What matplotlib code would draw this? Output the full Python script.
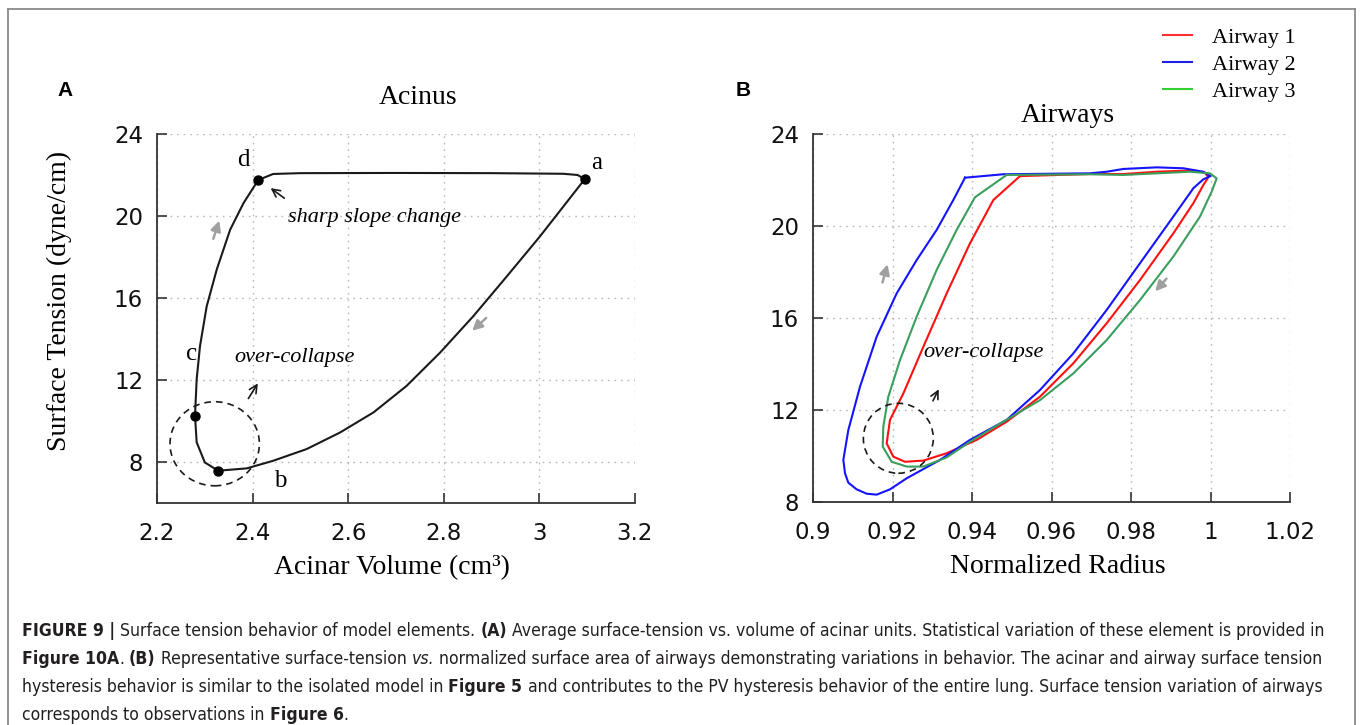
import matplotlib
matplotlib.use('Agg')
import matplotlib.pyplot as plt
from matplotlib.patches import Ellipse
from matplotlib.lines import Line2D
from matplotlib import font_manager as fm

# ---------------- Panel A: Acinus ----------------
acinus_x = [3.095, 3.001, 2.932, 2.862, 2.792, 2.722, 2.653, 2.583, 2.513, 2.443, 2.388, 2.328,
            2.300, 2.283, 2.2795, 2.283, 2.290, 2.304, 2.325, 2.353, 2.381, 2.412,
            2.443, 2.50, 2.70, 2.90, 3.05, 3.08, 3.095]
acinus_y = [21.8, 19.0, 17.06, 15.12, 13.33, 11.71, 10.42, 9.44, 8.63, 8.06, 7.69, 7.575,
            7.98, 8.96, 10.25, 12.04, 13.66, 15.6, 17.39, 19.33, 20.63, 21.76,
            22.05, 22.09, 22.1, 22.09, 22.06, 22.0, 21.8]
point_labels = ['a', 'b', 'c', 'd']
point_x = [3.095, 2.328, 2.2795, 2.412]
point_y = [21.8, 7.575, 10.25, 21.76]
label_x = [3.12, 2.457, 2.272, 2.38]
label_y = [22.57, 7.09, 13.25, 22.73]
a_xticks = [2.2, 2.4, 2.6, 2.8, 3.0, 3.2]
a_xticklabels = ['2.2', '2.4', '2.6', '2.8', '3', '3.2']
a_yticks = [8, 12, 16, 20, 24]

# ---------------- Panel B: Airways ----------------
airway_names = ['Airway 1', 'Airway 2', 'Airway 3']
airway1_x = [0.95208, 0.94537, 0.9395, 0.93363, 0.92776, 0.92273, 0.91937, 0.91853, 0.92021, 0.92314,
             0.92776, 0.93363, 0.94117, 0.94872, 0.95711, 0.96549, 0.97388, 0.98226, 0.99065, 0.99568,
             0.9982, 0.99945, 0.99862, 0.99484, 0.98646, 0.97807, 0.9697, 0.95208]
airway1_y = [22.17, 21.13, 19.25, 17.07, 14.75, 12.72, 11.57, 10.55, 9.97, 9.75,
             9.80, 10.12, 10.70, 11.49, 12.58, 14.03, 15.77, 17.65, 19.68, 20.99,
             21.78, 22.12, 22.32, 22.41, 22.36, 22.26, 22.26, 22.17]
airway2_x = [0.93824, 0.94788, 0.9697, 0.97388, 0.97807, 0.98646, 0.99317, 0.9982, 1.00004,
             0.9982, 0.99568, 0.99065, 0.98226, 0.97388, 0.96549, 0.95711, 0.94872, 0.9395, 0.93195,
             0.92356, 0.91937, 0.91602, 0.9135, 0.91098, 0.90889, 0.90805, 0.90763, 0.90889, 0.91182,
             0.91602, 0.92105, 0.92608, 0.93111, 0.9353, 0.93824]
airway2_y = [22.10, 22.25, 22.29, 22.36, 22.48, 22.55, 22.51, 22.36, 22.17,
             22.03, 21.64, 20.41, 18.38, 16.35, 14.46, 12.87, 11.57, 10.70, 9.83,
             9.03, 8.55, 8.32, 8.36, 8.55, 8.84, 9.25, 9.83, 11.13, 13.01,
             15.19, 17.07, 18.52, 19.83, 21.13, 22.10]
airway3_x = [0.94872, 0.94075, 0.93614, 0.93111, 0.92608, 0.92189, 0.91895, 0.91769, 0.91753, 0.91979,
             0.92356, 0.92776, 0.93363, 0.9395, 0.94788, 0.95711, 0.96549, 0.97388, 0.98226, 0.99065,
             0.99736, 1.00029, 1.00155, 0.99987, 0.99484, 0.98646, 0.97807, 0.9697, 0.94872]
airway3_y = [22.22, 21.25, 19.83, 18.09, 16.06, 14.17, 12.58, 11.28, 10.41, 9.75,
             9.54, 9.54, 9.94, 10.62, 11.49, 12.43, 13.59, 15.04, 16.78, 18.67,
             20.41, 21.49, 22.07, 22.29, 22.36, 22.29, 22.22, 22.25, 22.22]
b_xticks = [0.9, 0.92, 0.94, 0.96, 0.98, 1.0, 1.02]
b_xticklabels = ['0.9', '0.92', '0.94', '0.96', '0.98', '1', '1.02']
b_yticks = [8, 12, 16, 20, 24]

curve_colors = ['#ff1010', '#1414ff', '#3a9e5c']
legend_colors = ['#ff3030', '#2020e0', '#30d030']

# ---------------- fonts ----------------
available = {f.name for f in fm.fontManager.ttflist}
def pick(names):
    for n in names:
        if n in available:
            return n
    return 'DejaVu Sans'
SERIF = pick(['Liberation Serif', 'DejaVu Serif'])
TICKF = 'DejaVu Sans'
LABF = pick(['Liberation Sans', 'DejaVu Sans'])


def is_bold(f):
    w = f.weight
    if isinstance(w, str):
        return w.lower() in ('bold', 'heavy', 'black', 'extra bold', 'semibold', 'demibold')
    return w >= 600


def is_ital(f):
    return f.style in ('italic', 'oblique')


def condensed_file(bold, ital):
    prefs = ['liberation sans narrow', 'dejavu sans condensed', 'roboto condensed',
             'open sans condensed', 'noto sans condensed']
    cands = []
    for f in fm.fontManager.ttflist:
        nm = (f.name + ' ' + f.fname).lower()
        if 'serif' in nm.replace('sans', '') and 'sans' not in nm:
            continue
        if 'mono' in nm or 'serif' in f.name.lower():
            continue
        if not ('narrow' in nm or 'condensed' in nm):
            continue
        if is_bold(f) != bold or is_ital(f) != ital:
            continue
        rank = len(prefs)
        for i, p in enumerate(prefs):
            if p.split()[0] in nm and ('narrow' in p and 'narrow' in nm or 'condensed' in p and 'condensed' in nm):
                rank = i
                break
        cands.append((rank, f.fname))
    if not cands:
        return None
    cands.sort()
    return cands[0][1]


cap_files = {'r': condensed_file(False, False), 'b': condensed_file(True, False),
             'i': condensed_file(False, True)}

W, H = 1360, 725
fig = plt.figure(figsize=(W / 100, H / 100), dpi=100)


def fx(px):
    return px / W


def fy(py):
    return 1 - py / H


axA = fig.add_axes([fx(157), fy(503), fx(635) - fx(157), fy(134) - fy(503)])
axB = fig.add_axes([fx(813), fy(502), fx(1290) - fx(813), fy(134) - fy(502)])


def style(ax, xlim, ylim, xt, xtl, yt):
    ax.set_xlim(*xlim)
    ax.set_ylim(*ylim)
    ax.set_xticks(xt)
    ax.set_xticklabels(xtl)
    ax.set_yticks(yt)
    for s in ['top', 'right']:
        ax.spines[s].set_visible(False)
    for s in ['left', 'bottom']:
        ax.spines[s].set_color('#333333')
        ax.spines[s].set_linewidth(1.3)
    ax.tick_params(direction='in', length=7, width=1.2, colors='#333333',
                   labelcolor='#111111', labelsize=16.5)
    ax.tick_params(axis='x', pad=14)
    ax.tick_params(axis='y', pad=10)
    for lab in ax.get_xticklabels() + ax.get_yticklabels():
        lab.set_family(TICKF)
    ax.grid(True, linestyle=(0, (1.2, 3.5)), color='#b8b8b8', linewidth=1.0)
    ax.set_axisbelow(True)


style(axA, (2.2, 3.2), (6.0, 24), a_xticks, a_xticklabels, a_yticks)
style(axB, (0.9, 1.02), (8, 24), b_xticks, b_xticklabels, b_yticks)

# ---- Panel A content ----
axA.plot(acinus_x, acinus_y, color='#1a1a1a', lw=1.5, zorder=3)
axA.plot(point_x, point_y, 'o', color='black', ms=6.5, zorder=4)
for t, x, y in zip(point_labels, label_x, label_y):
    axA.text(x, y, t, family=SERIF, fontsize=18, ha='center', va='center')
axA.add_patch(Ellipse((2.3207, 8.89), 0.187, 4.1, fill=False, ls=(0, (4, 3)),
                      lw=1.2, color='#1a1a1a', zorder=3))
axA.text(2.654, 19.91, 'sharp slope change', family=SERIF, style='italic',
         fontsize=16, ha='center', va='center')
axA.text(2.487, 13.1, 'over-collapse', family=SERIF, style='italic',
         fontsize=16, ha='center', va='center')
axA.annotate('', xy=(2.433, 21.44), xytext=(2.471, 20.79),
             arrowprops=dict(arrowstyle='->', color='#1a1a1a', lw=1.2,
                             mutation_scale=14))
axA.annotate('', xy=(2.414, 11.95), xytext=(2.388, 10.98),
             arrowprops=dict(arrowstyle='->', color='#1a1a1a', lw=1.2,
                             mutation_scale=14))
axA.annotate('', xy=(2.332, 19.9), xytext=(2.316, 18.76),
             arrowprops=dict(arrowstyle='-|>', color='#a0a0a0', lw=1.8,
                             mutation_scale=15))
axA.annotate('', xy=(2.855, 14.31), xytext=(2.893, 15.12),
             arrowprops=dict(arrowstyle='-|>', color='#a0a0a0', lw=1.8,
                             mutation_scale=15))
axA.set_xlabel('Acinar Volume (cm³)', family=SERIF, fontsize=20)
axA.xaxis.set_label_coords(0.4916, -0.176)
axA.xaxis.label.set_va('center')
axA.set_ylabel('Surface Tension (dyne/cm)', family=SERIF, fontsize=20)
axA.yaxis.set_label_coords(-0.205, 0.547)
axA.yaxis.label.set_va('center')
axA.text(0.546, 1.100, 'Acinus', transform=axA.transAxes, family=SERIF,
         fontsize=20, ha='center', va='center')

# ---- Panel B content ----
for xs, ys, c in zip([airway1_x, airway2_x, airway3_x],
                     [airway1_y, airway2_y, airway3_y], curve_colors):
    axB.plot(xs, ys, color=c, lw=1.5, zorder=3)
axB.add_patch(Ellipse((0.92147, 10.77), 0.0176, 3.04, fill=False, ls=(0, (4, 3)),
                      lw=1.2, color='#1a1a1a', zorder=4))
axB.text(0.943, 14.48, 'over-collapse', family=SERIF, style='italic',
         fontsize=16, ha='center', va='center')
axB.annotate('', xy=(0.93195, 13.01), xytext=(0.92986, 12.29),
             arrowprops=dict(arrowstyle='->', color='#1a1a1a', lw=1.2,
                             mutation_scale=14))
axB.annotate('', xy=(0.91895, 18.45), xytext=(0.91728, 17.43),
             arrowprops=dict(arrowstyle='-|>', color='#a0a0a0', lw=1.8,
                             mutation_scale=15))
axB.annotate('', xy=(0.98562, 17.07), xytext=(0.98939, 17.8),
             arrowprops=dict(arrowstyle='-|>', color='#a0a0a0', lw=1.8,
                             mutation_scale=15))
axB.set_xlabel('Normalized Radius', family=SERIF, fontsize=20)
axB.xaxis.set_label_coords(0.5136, -0.1766)
axB.xaxis.label.set_va('center')
axB.text(0.5346, 1.0516, 'Airways', transform=axB.transAxes, family=SERIF,
         fontsize=20, ha='center', va='center')

handles = [Line2D([], [], color=c, lw=1.5) for c in legend_colors]
fig.legend(handles, airway_names, loc='upper left',
           bbox_to_anchor=(fx(1163), fy(27)), frameon=False, borderpad=0,
           borderaxespad=0, prop={'family': SERIF, 'size': 16},
           handlelength=1.3, handletextpad=0.9, labelspacing=0.3)

# panel letters
fig.text(fx(65), fy(90), 'A', family=LABF, weight='bold', fontsize=15,
         ha='center', va='center')
fig.text(fx(743), fy(90), 'B', family=LABF, weight='bold', fontsize=15,
         ha='center', va='center')

# frame
fc = '#8a8a8a'
fig.add_artist(Line2D([fx(8), fx(8)], [0, fy(9)], color=fc, lw=1.3))
fig.add_artist(Line2D([fx(8), fx(1355)], [fy(9), fy(9)], color=fc, lw=1.3))
fig.add_artist(Line2D([fx(1355), fx(1355)], [fy(9), 0], color=fc, lw=1.3))

# ---------------- caption ----------------
caption_lines = [
    [("FIGURE 9 |", 'b'), (" Surface tension behavior of model elements. ", 'r'), ("(A)", 'b'),
     (" Average surface-tension vs. volume of acinar units. Statistical variation of these element is provided in", 'r')],
    [("Figure 10A", 'b'), (". ", 'r'), ("(B)", 'b'), (" Representative surface-tension ", 'r'), ("vs.", 'i'),
     (" normalized surface area of airways demonstrating variations in behavior. The acinar and airway surface tension", 'r')],
    [("hysteresis behavior is similar to the isolated model in ", 'r'), ("Figure 5", 'b'),
     (" and contributes to the PV hysteresis behavior of the entire lung. Surface tension variation of airways", 'r')],
    [("corresponds to observations in ", 'r'), ("Figure 6", 'b'), (".", 'r')],
]
caption_y = [631, 659, 687, 715]
cap_x0, cap_x1 = 22, 1322

renderer = fig.canvas.get_renderer()


def props(st, size):
    d = dict(color='#231f20')
    fname = cap_files.get(st)
    if fname is None and st == 'i':
        fname = cap_files.get('r')
        if fname is not None:
            return dict(d, fontproperties=fm.FontProperties(fname=fname, size=size, style='italic'))
    if fname is not None:
        d['fontproperties'] = fm.FontProperties(fname=fname, size=size)
        return d
    d.update(family=LABF, fontsize=size)
    if st == 'b':
        d['weight'] = 'bold'
    if st == 'i':
        d['style'] = 'italic'
    return d


def measure(s, st, size):
    t = fig.text(0, 0, s, **props(st, size))
    w = t.get_window_extent(renderer).width
    t.remove()
    return w


def space_w(st, size):
    return measure('x x', st, size) - measure('xx', st, size)


def line_width(line, size):
    tot = 0
    for s, st in line:
        core = s.strip()
        lead = len(s) - len(s.lstrip())
        trail = len(s) - len(s.rstrip())
        sw = space_w(st, size)
        tot += (lead + trail) * sw + (measure(core, st, size) if core else 0)
    return tot


base = 11.0
w0 = line_width(caption_lines[0], base)
cap_size = base * (cap_x1 - cap_x0) / w0

for line, py in zip(caption_lines, caption_y):
    x = cap_x0
    for s, st in line:
        core = s.strip()
        lead = len(s) - len(s.lstrip())
        trail = len(s) - len(s.rstrip())
        sw = space_w(st, cap_size)
        x += lead * sw
        if core:
            t = fig.text(fx(x), fy(py), core, va='center', ha='left', **props(st, cap_size))
            x += t.get_window_extent(renderer).width
        x += trail * sw

fig.savefig('out.png', dpi=100)
